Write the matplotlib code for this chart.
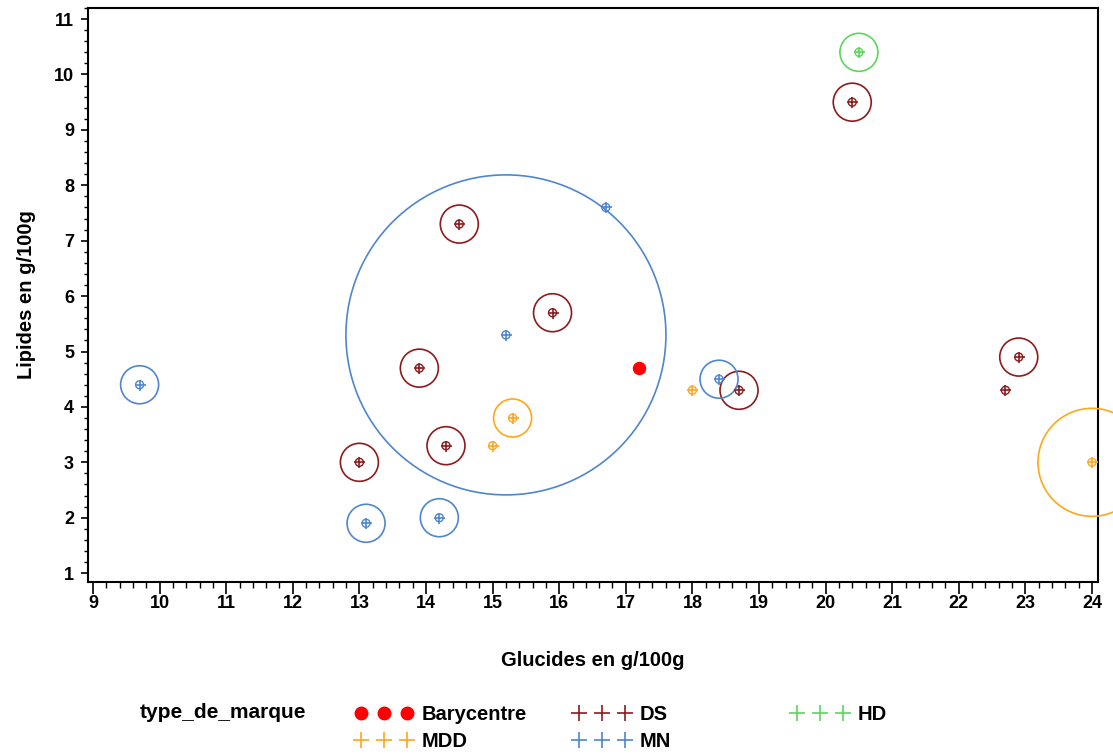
import numpy as np
import matplotlib
matplotlib.use("Agg")
import matplotlib.pyplot as plt
from matplotlib.lines import Line2D
from matplotlib.ticker import MultipleLocator

plt.rcParams['font.family'] = ['Liberation Sans', 'DejaVu Sans']
plt.rcParams['font.weight'] = 'bold'
plt.rcParams['axes.labelweight'] = 'bold'

# donnees par type de marque : glucides, lipides, taille de bulle (0 = pas de bulle)
ds_x = [14.5, 15.9, 13.9, 14.3, 13.0, 18.7, 20.4, 22.9, 22.7]
ds_y = [7.3, 5.7, 4.7, 3.3, 3.0, 4.3, 9.5, 4.9, 4.3]
ds_bulle = [4.75, 4.75, 4.75, 4.75, 4.75, 4.75, 4.75, 4.75, 0]

mn_x = [9.7, 13.1, 14.2, 18.4, 15.2, 16.7]
mn_y = [4.4, 1.9, 2.0, 4.5, 5.3, 7.6]
mn_bulle = [4.75, 4.75, 4.75, 4.75, 40, 0]

mdd_x = [15.3, 15.0, 18.0, 24.0]
mdd_y = [3.8, 3.3, 4.3, 3.0]
mdd_bulle = [4.75, 0, 0, 13.5]

hd_x = [20.5]
hd_y = [10.4]
hd_bulle = [4.75]

bary_x = [17.2]
bary_y = [4.7]

groupes = [
    ("DS", ds_x, ds_y, ds_bulle, "#8E1B1B"),
    ("MN", mn_x, mn_y, mn_bulle, "#4F86CF"),
    ("MDD", mdd_x, mdd_y, mdd_bulle, "#FFA61C"),
    ("HD", hd_x, hd_y, hd_bulle, "#5CD65C"),
]

W, H = 1113, 754
fig = plt.figure(figsize=(W / 100, H / 100), dpi=100)
ax = fig.add_axes([88 / W, 1 - 582 / H, (1098 - 88) / W, (582 - 8) / H])

px2pt = 72 / 100  # pixel -> point
for nom, x, y, bulle, col in groupes:
    x = np.array(x)
    y = np.array(y)
    b = np.array(bulle)
    # petite bulle autour de chaque point
    ax.scatter(x, y, s=(2 * 4 * px2pt) ** 2, facecolors='none', edgecolors=col,
               linewidths=1.0, zorder=3)
    ax.scatter(x, y, marker='+', s=(11 * px2pt) ** 2, c=col, linewidths=1.2, zorder=4)
    m = b > 0
    ax.scatter(x[m], y[m], s=(2 * 4 * b[m] * px2pt) ** 2, facecolors='none',
               edgecolors=col, linewidths=1.2, zorder=3, clip_on=False)

ax.scatter(bary_x, bary_y, s=(12 * px2pt) ** 2, c='#FF0000', zorder=5)

ax.set_xlim(8.925, 24.09)
ax.set_ylim(0.84, 11.2)
ax.xaxis.set_major_locator(MultipleLocator(1))
ax.xaxis.set_minor_locator(MultipleLocator(0.2))
ax.yaxis.set_major_locator(MultipleLocator(1))
ax.yaxis.set_minor_locator(MultipleLocator(0.2))
ax.tick_params(axis='x', which='major', length=8.5, width=1.2, pad=1, labelsize=13)
ax.tick_params(axis='x', which='minor', length=4.3, width=1.0)
ax.tick_params(axis='y', which='major', length=5, width=1.2, pad=5, labelsize=13)
ax.tick_params(axis='y', which='minor', length=3, width=1.0)
for sp in ax.spines.values():
    sp.set_linewidth(1.5)

ax.set_xlabel("Glucides en g/100g", fontsize=14.5, labelpad=28)
ax.set_ylabel("Lipides en g/100g", fontsize=14.5, labelpad=13)

# legende en bas
def h(col, marker='+'):
    if marker == 'o':
        return Line2D([], [], marker='o', color=col, linestyle='none', markersize=9)
    return Line2D([], [], marker='+', color=col, linestyle='none', markersize=11,
                  markeredgewidth=1.2)

fig.text(140 / W, 1 - 713 / H, "type_de_marque", fontsize=15, va='center', ha='left')
colonnes = [
    (355, [h('#FF0000', 'o'), h('#FFA61C')], ["Barycentre", "MDD"]),
    (573, [h('#8E1B1B'), h('#4F86CF')], ["DS", "MN"]),
    (791, [h('#5CD65C')], ["HD"]),
]
for xpix, hs, labs in colonnes:
    fig.legend(hs, labs, loc='upper left', bbox_to_anchor=(xpix / W, 1 - 705 / H),
               frameon=False, numpoints=3, handlelength=2.9, handletextpad=0.4,
               labelspacing=0.4, borderpad=0, borderaxespad=0, fontsize=14.5)

fig.savefig("out.png", dpi=100)
